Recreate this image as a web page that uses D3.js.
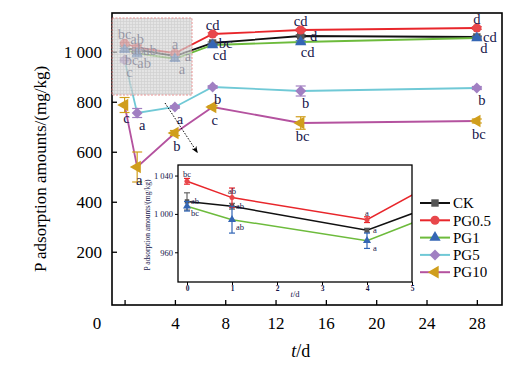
<!DOCTYPE html>
<html>
<head>
<meta charset="utf-8">
<script src="https://cdn.jsdelivr.net/npm/d3@7"></script>
<style>
  body { margin: 0; background: #fff; }
  svg { font-family: "Liberation Serif", "DejaVu Serif", serif; }
</style>
</head>
<body>
<div id="chart"></div>
<script>
// sampling days
const days = [0, 1, 4, 7, 14, 28];

// P adsorption amounts (mg/kg)
const ck   = [1013, 1008, 983, 1035, 1063, 1059];
const pg05 = [1034, 1017, 994, 1071, 1087, 1095];
const pg1  = [1008, 994, 972, 1027, 1039, 1055];
const pg5  = [967, 755, 779, 859, 843, 855];
const pg10 = [787, 539, 675, 779, 715, 723];

// error bars
const ckErr   = [9, 3, 2, 4, 5, 4];
const pg05Err = [3, 10, 3, 5, 5, 5];
const pg1Err  = [5, 14, 8, 4, 5, 5];
const pg5Err  = [8, 18, 5, 5, 20, 6];
const pg10Err = [30, 60, 10, 5, 25, 8];

// significance letters
const ckLetters   = ["ab", "ab", "a", "bc", "d", "cd"];
const pg05Letters = ["bc", "ab", "a", "cd", "cd", "d"];
const pg1Letters  = ["bc", "ab", "a", "cd", "cd", "d"];
const pg5Letters  = ["c", "a", "a", "b", "b", "b"];
const pg10Letters = ["c", "a", "b", "c", "bc", "bc"];

const seriesNames = ["CK", "PG0.5", "PG1", "PG5", "PG10"];
const xTicks = [0, 4, 8, 12, 16, 20, 24, 28];
const yTicks = [200, 400, 600, 800, 1000];
const insetXTicks = [0, 1, 2, 3, 4, 5];
const insetYTicks = [960, 1000, 1040];

const series = [
  { name: "CK", values: ck, err: ckErr, letters: ckLetters, line: "#111", fill: "#555",
    symbol: d3.symbolSquare, size: 55, rot: 0, lab: [13, 0], ilab: [8, 0] },
  { name: "PG0.5", values: pg05, err: pg05Err, letters: pg05Letters, line: "#e8262b", fill: "#e8474b",
    symbol: d3.symbolCircle, size: 65, rot: 0, lab: [0, -9], ilab: [0, -7] },
  { name: "PG1", values: pg1, err: pg1Err, letters: pg1Letters, line: "#6dbb3c", fill: "#3466b4",
    symbol: d3.symbolTriangle, size: 55, rot: 0, lab: [7, 10], ilab: [8, 7] },
  { name: "PG5", values: pg5, err: pg5Err, letters: pg5Letters, line: "#70c9d6", fill: "#a17fc2",
    symbol: d3.symbolSquare, size: 60, rot: 45, lab: [5, 12], ilab: [0, 0] },
  { name: "PG10", values: pg10, err: pg10Err, letters: pg10Letters, line: "#b4529f", fill: "#d09e1c",
    symbol: d3.symbolTriangle, size: 70, rot: -90, lab: [2, 13], ilab: [0, 0] }
];

const width = 514, height = 372;
const svg = d3.select("#chart").append("svg")
  .attr("width", width).attr("height", height);

const labelColor = "#15154a";

// main scales
const x = d3.scaleLinear().domain([-1, 30]).range([112, 502]);
const y = d3.scaleLinear().domain([-13, 1155]).range([305, 13]);

svg.append("clipPath").attr("id", "mainClip")
  .append("rect").attr("x", x(-1)).attr("y", y(1155))
  .attr("width", x(30) - x(-1)).attr("height", y(-13) - y(1155));

// axes
svg.append("g")
  .attr("transform", `translate(0,${y(-13)})`)
  .call(d3.axisBottom(x).tickValues(xTicks).tickSize(-5).tickPadding(12))
  .call(g => g.select(".domain").remove())
  .call(g => g.selectAll("line").attr("stroke", "#000").attr("stroke-width", 1.3))
  .call(g => g.selectAll("text").attr("font-size", 17).attr("fill", "#000")
    .attr("font-family", "Liberation Serif")
    .text(d => d === 0 ? "" : d));

svg.append("text")
  .attr("x", x(-1) - 15).attr("y", y(-13) + 24)
  .attr("text-anchor", "middle").attr("font-size", 17).text("0");

svg.append("g")
  .attr("transform", `translate(${x(-1)},0)`)
  .call(d3.axisLeft(y).tickValues(yTicks).tickSize(-5).tickPadding(10)
    .tickFormat(d => d === 1000 ? "1 000" : d))
  .call(g => g.select(".domain").remove())
  .call(g => g.selectAll("line").attr("stroke", "#000").attr("stroke-width", 1.3))
  .call(g => g.selectAll("text").attr("font-size", 17).attr("fill", "#000")
    .attr("font-family", "Liberation Serif"));

svg.append("rect")
  .attr("x", x(-1)).attr("y", y(1155))
  .attr("width", x(30) - x(-1)).attr("height", y(-13) - y(1155))
  .attr("fill", "none").attr("stroke", "#000").attr("stroke-width", 1.6);

// axis titles
svg.append("text")
  .attr("transform", `translate(46,${(y(-13) + y(1155)) / 2 + 10}) rotate(-90)`)
  .attr("text-anchor", "middle").attr("font-size", 17)
  .text("P adsorption amounts/(mg/kg)");

const xt = svg.append("text")
  .attr("x", x(14)).attr("y", 357)
  .attr("text-anchor", "middle").attr("font-size", 18);
xt.append("tspan").attr("font-style", "italic").text("t");
xt.append("tspan").text("/d");

// draw the series into a plot area
function drawSeries(g, xs, ys, list, opts) {
  const line = d3.line().x((d, i) => xs(days[i])).y(d => ys(d));
  list.forEach(s => {
    g.append("path").datum(s.values)
      .attr("fill", "none").attr("stroke", s.line)
      .attr("stroke-width", opts.lw).attr("d", line);
  });
  list.forEach(s => {
    s.values.forEach((v, i) => {
      if (xs(days[i]) > xs.range()[1] + 1) return;
      const cx = xs(days[i]);
      const e = s.err[i];
      const eg = g.append("g").attr("stroke", opts.errColor ? opts.errColor(s) : s.fill)
        .attr("stroke-width", 1.2);
      eg.append("line").attr("x1", cx).attr("x2", cx).attr("y1", ys(v - e)).attr("y2", ys(v + e));
      eg.append("line").attr("x1", cx - opts.cap).attr("x2", cx + opts.cap).attr("y1", ys(v + e)).attr("y2", ys(v + e));
      eg.append("line").attr("x1", cx - opts.cap).attr("x2", cx + opts.cap).attr("y1", ys(v - e)).attr("y2", ys(v - e));
      g.append("path")
        .attr("d", d3.symbol().type(s.symbol).size(s.size * opts.scale)())
        .attr("transform", `translate(${cx},${ys(v)}) rotate(${s.rot})`)
        .attr("fill", s.fill);
    });
  });
}

const mainG = svg.append("g").attr("clip-path", "url(#mainClip)");
drawSeries(mainG, x, y, series, { lw: 1.8, cap: 5, scale: 1 });

// letters, main chart
series.forEach(s => {
  s.values.forEach((v, i) => {
    svg.append("text")
      .attr("x", x(days[i]) + s.lab[0]).attr("y", y(v) + s.lab[1])
      .attr("dy", "0.35em").attr("text-anchor", "middle")
      .attr("font-size", 14.5).attr("fill", labelColor)
      .text(s.letters[i]);
  });
});

// hatched box marking the zoomed region
const defs = svg.append("defs");
const pat = defs.append("pattern").attr("id", "grid")
  .attr("width", 6).attr("height", 6).attr("patternUnits", "userSpaceOnUse");
pat.append("rect").attr("width", 6).attr("height", 6).attr("fill", "#d9d9d9");
pat.append("path").attr("d", "M0,0.5H6M0.5,0V6M0,3.5H6M3.5,0V6")
  .attr("stroke", "#bdbdbd").attr("stroke-width", 0.7);

svg.append("rect")
  .attr("x", x(-1)).attr("y", 18).attr("width", 192 - x(-1)).attr("height", 77)
  .attr("fill", "url(#grid)").attr("opacity", 0.7)
  .attr("stroke", "#e06666").attr("stroke-width", 1)
  .attr("stroke-dasharray", "2,1.5");

// arrow to the inset
defs.append("marker").attr("id", "arrow")
  .attr("viewBox", "0 0 10 10").attr("refX", 8).attr("refY", 5)
  .attr("markerWidth", 7).attr("markerHeight", 7).attr("orient", "auto")
  .append("path").attr("d", "M0,1L10,5L0,9L3,5Z").attr("fill", "#000");
svg.append("line")
  .attr("x1", 165).attr("y1", 103).attr("x2", 197).attr("y2", 152)
  .attr("stroke", "#000").attr("stroke-width", 1)
  .attr("stroke-dasharray", "1.5,1.5").attr("marker-end", "url(#arrow)");

// inset
const ix = d3.scaleLinear().domain([-0.2, 5]).range([178, 412]);
const iy = d3.scaleLinear().domain([929, 1051]).range([282, 165]);

svg.append("rect")
  .attr("x", 178).attr("y", 165).attr("width", 234).attr("height", 117)
  .attr("fill", "#fff");

svg.append("clipPath").attr("id", "insetClip")
  .append("rect").attr("x", 178).attr("y", 165).attr("width", 234).attr("height", 117);

const insetSeries = series.slice(0, 3).map(s => Object.assign({}, s, {
  size: s.name === "PG1" ? 28 : 20
}));
const insetG = svg.append("g").attr("clip-path", "url(#insetClip)");
drawSeries(insetG, ix, iy, insetSeries, {
  lw: 1.5, cap: 3, scale: 1,
  errColor: s => s.name === "CK" ? "#666" : s.name === "PG0.5" ? "#e8262b" : "#2f64b5"
});

svg.append("rect")
  .attr("x", 178).attr("y", 165).attr("width", 234).attr("height", 117)
  .attr("fill", "none").attr("stroke", "#000").attr("stroke-width", 1.3);

svg.append("g")
  .attr("transform", "translate(0,282)")
  .call(d3.axisBottom(ix).tickValues(insetXTicks).tickSize(3).tickPadding(1)
    .tickFormat(d3.format("d")))
  .call(g => g.select(".domain").remove())
  .call(g => g.selectAll("text").attr("font-size", 7.5).attr("font-weight", "bold")
    .attr("fill", labelColor).attr("font-family", "Liberation Serif"));

svg.append("g")
  .attr("transform", "translate(178,0)")
  .call(d3.axisLeft(iy).tickValues(insetYTicks).tickSize(3).tickPadding(2)
    .tickFormat(d => d === 1000 ? "1 000" : d === 1040 ? "1 040" : d))
  .call(g => g.select(".domain").remove())
  .call(g => g.selectAll("text").attr("font-size", 8.5)
    .attr("fill", labelColor).attr("font-family", "Liberation Serif"));

const ixt = svg.append("text")
  .attr("x", ix(2.4)).attr("y", 297)
  .attr("text-anchor", "middle").attr("font-size", 8.5).attr("fill", labelColor);
ixt.append("tspan").attr("font-style", "italic").text("t");
ixt.append("tspan").text("/d");

svg.append("text")
  .attr("transform", "translate(150,225) rotate(-90)")
  .attr("text-anchor", "middle").attr("font-size", 7.5).attr("fill", labelColor)
  .text("P adsorption amounts/(mg/kg)");

insetSeries.forEach(s => {
  s.values.forEach((v, i) => {
    if (days[i] > 5) return;
    svg.append("text")
      .attr("x", ix(days[i]) + s.ilab[0]).attr("y", iy(v) + s.ilab[1])
      .attr("dy", "0.35em").attr("text-anchor", "middle")
      .attr("font-size", 8.5).attr("fill", labelColor)
      .text(s.letters[i]);
  });
});

// legend
const legend = svg.append("g").attr("transform", "translate(420,203)");
series.forEach((s, i) => {
  const row = legend.append("g").attr("transform", `translate(0,${i * 17.3})`);
  row.append("line").attr("x1", 0).attr("x2", 30)
    .attr("stroke", s.line).attr("stroke-width", 2);
  row.append("path")
    .attr("d", d3.symbol().type(s.symbol).size(s.size)())
    .attr("transform", `translate(15,0) rotate(${s.rot})`)
    .attr("fill", s.fill);
  row.append("text").attr("x", 33).attr("dy", "0.35em")
    .attr("font-size", 15).attr("fill", "#000").text(s.name);
});
</script>
</body>
</html>
